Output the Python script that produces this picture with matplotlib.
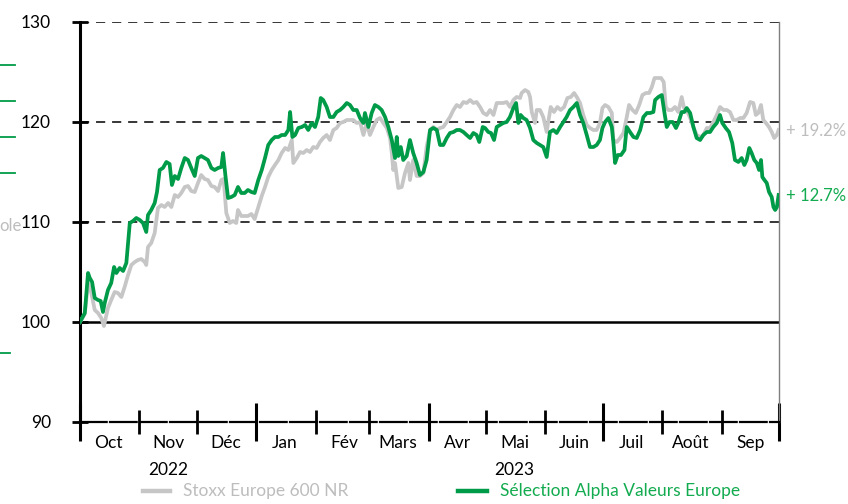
import matplotlib
matplotlib.use("Agg")
import matplotlib.pyplot as plt
import matplotlib.dates as mdates
from matplotlib.lines import Line2D
import pandas as pd
import numpy as np

plt.rcParams['font.family'] = ['Lato', 'DejaVu Sans']

start_date = "2022-10-01"
end_date = "2023-10-01"

# Sélection Alpha Valeurs Europe (days since 2022-10-01, value base 100)
sel_days = [0, 2.5, 4.2, 5.1, 6.3, 7.7, 9.4, 10.8, 12.0, 12.9, 14.6, 16.3, 17.8, 19.0, 20.7, 22.5, 24.2,
            26.0, 27.7, 29.4, 31.2, 32.9, 34.6, 35.5, 37.2, 39.0, 40.2, 41.6, 43.3, 45.1, 46.8, 48.0,
            49.5, 51.2, 52.9, 54.7, 56.4, 58.1, 59.9, 61.6, 63.3, 65.1, 66.8, 68.6, 70.3, 72.1, 73.8,
            74.7, 75.9, 77.3, 79.0, 80.8, 82.5, 84.2, 86.0, 87.7, 89.5, 91.2, 93.1, 94.9, 96.6, 98.3,
            100.1, 101.8, 103.6, 105.3, 107.1, 108.8, 109.7, 110.9, 112.3, 114.0, 115.8, 117.5, 119.2,
            121.0, 122.7, 124.4, 125.7, 127.0, 128.8, 130.5, 132.3, 134.0, 135.8, 137.5, 139.3, 141.0,
            142.7, 144.5, 146.2, 148.0, 148.8, 150.6, 152.3, 154.0, 155.8, 157.5, 159.3, 161.0, 162.8,
            164.5, 165.4, 166.2, 167.5, 168.8, 170.6, 172.3, 174.0, 175.8, 177.5, 179.3, 181.0, 182.8,
            184.5, 186.3, 188.0, 189.7, 191.5, 193.2, 195.0, 196.7, 198.4, 200.2, 201.9, 203.7, 205.4,
            207.1, 208.5, 210.3, 211.5, 213.2, 214.6, 216.2, 217.6, 219.3, 221.0, 222.8, 224.5, 226.3,
            227.7, 228.9, 230.1, 231.5, 233.2, 235.0, 236.7, 238.5, 240.2, 241.9, 243.7, 245.4, 247.2,
            248.9, 250.7, 252.4, 254.1, 255.9, 257.6, 259.4, 261.1, 262.8, 264.6, 266.3, 268.1, 269.8,
            271.5, 272.8, 274.2, 275.9, 277.7, 278.5, 279.4, 280.8, 282.5, 284.3, 285.5, 287.2, 289.0,
            290.7, 292.5, 294.2, 296.0, 297.7, 299.4, 300.3, 302.0, 303.8, 305.2, 306.4, 307.8, 309.5,
            311.2, 312.4, 314.2, 315.6, 316.8, 318.6, 320.3, 322.0, 323.8, 325.5, 327.3, 329.0, 330.7,
            332.5, 334.2, 335.4, 337.2, 338.9, 340.6, 342.0, 343.8, 345.5, 346.9, 348.1, 349.5, 350.7,
            352.1, 353.4, 354.6, 355.6, 356.3, 357.4, 358.6, 359.8, 361.2, 362.1, 363.0, 363.9, 364.8]
sel_vals = [100.0, 100.9, 104.9, 104.4, 104.0, 102.4, 102.2, 102.1, 101.0, 101.9, 103.2, 103.9, 105.5,
            104.9, 105.4, 105.1, 105.9, 109.9, 110.1, 110.4, 110.2, 109.9, 109.0, 110.7, 111.2, 111.9,
            113.0, 115.2, 115.4, 116.0, 115.8, 113.7, 114.6, 114.3, 115.4, 116.4, 116.2, 115.4, 114.6,
            116.4, 116.6, 116.4, 116.2, 115.4, 115.2, 115.4, 115.5, 116.9, 114.7, 112.4, 112.5, 112.7,
            113.5, 112.9, 112.9, 113.2, 113.0, 112.9, 114.2, 115.2, 116.4, 117.7, 118.2, 118.5, 118.5,
            118.7, 118.7, 119.2, 121.0, 118.5, 118.7, 119.4, 119.5, 119.7, 119.2, 119.9, 119.5, 120.5,
            122.4, 122.2, 121.5, 120.5, 120.5, 121.0, 121.2, 121.5, 121.9, 121.7, 121.2, 121.2, 120.4,
            119.9, 120.9, 119.5, 120.9, 121.7, 121.5, 121.2, 120.5, 119.5, 118.2, 116.4, 118.5, 116.6,
            117.5, 116.2, 116.6, 118.2, 116.9, 115.9, 114.7, 115.0, 116.2, 119.2, 119.4, 119.2, 117.7,
            117.7, 118.4, 118.9, 119.0, 119.2, 119.2, 119.0, 118.7, 118.4, 118.9, 118.7, 118.0, 119.5,
            119.4, 119.0, 118.9, 118.2, 119.5, 119.7, 119.9, 120.0, 120.5, 121.4, 121.9, 119.9, 120.7,
            120.4, 120.2, 119.4, 118.2, 117.9, 117.7, 117.5, 116.5, 119.0, 119.2, 118.9, 119.5, 120.0,
            120.5, 121.2, 121.5, 121.9, 120.7, 119.9, 118.7, 117.5, 117.5, 117.7, 118.2, 119.4, 120.0,
            120.4, 119.5, 118.0, 115.9, 116.7, 116.7, 117.2, 119.5, 119.0, 118.5, 118.4, 119.2, 120.5,
            120.9, 120.9, 121.0, 122.2, 122.5, 122.7, 120.9, 119.5, 120.0, 120.0, 119.4, 119.9, 121.0,
            121.0, 121.4, 120.9, 119.5, 118.4, 118.2, 118.7, 119.0, 119.0, 119.5, 119.9, 120.7, 119.9,
            119.4, 119.0, 117.9, 116.2, 116.0, 116.4, 115.7, 116.2, 117.4, 116.9, 116.2, 115.9, 115.2,
            116.2, 114.5, 114.2, 113.9, 113.0, 112.5, 111.5, 111.2, 111.5, 112.7]

# Stoxx Europe 600 NR
stoxx_days = [0, 2.5, 4.2, 5.9, 7.7, 9.4, 11.1, 12.5, 14.6, 16.3, 18.1, 19.8, 21.6, 23.3, 25.1, 26.8,
              28.6, 30.3, 32.0, 33.8, 34.6, 35.5, 37.2, 39.0, 40.7, 42.5, 44.2, 46.0, 47.7, 49.5, 51.2,
              52.9, 54.7, 56.4, 58.1, 59.9, 61.6, 63.3, 65.1, 66.8, 68.6, 70.3, 72.1, 73.8, 75.0, 76.4,
              78.2, 79.9, 81.6, 82.5, 84.2, 86.0, 87.7, 89.5, 91.2, 93.1, 94.9, 96.6, 98.3, 100.1, 101.8,
              103.6, 105.3, 107.1, 108.8, 110.6, 111.4, 113.2, 114.9, 116.6, 118.4, 120.1, 121.8, 123.6,
              125.3, 127.0, 128.8, 130.5, 132.3, 134.0, 135.8, 137.5, 139.3, 141.0, 142.7, 144.5, 146.2,
              148.0, 149.7, 151.4, 153.2, 154.9, 156.7, 158.4, 160.2, 161.9, 162.8, 163.6, 164.5, 166.2,
              168.0, 169.7, 171.5, 172.3, 174.0, 175.8, 177.5, 179.3, 181.0, 182.8, 184.5, 186.3, 188.0,
              189.7, 191.5, 193.2, 195.0, 196.7, 198.4, 200.2, 201.9, 203.7, 205.4, 207.1, 208.9, 210.6,
              212.4, 214.1, 215.9, 217.6, 219.3, 221.0, 222.8, 224.5, 226.3, 228.0, 229.8, 230.6, 232.4,
              234.1, 235.0, 235.9, 237.6, 238.5, 240.2, 241.9, 243.7, 244.5, 245.8, 247.5, 249.3, 251.0,
              252.8, 254.5, 256.3, 258.0, 259.4, 261.1, 262.8, 264.6, 266.3, 268.1, 269.8, 271.5, 272.8,
              274.2, 275.9, 277.7, 278.5, 280.3, 282.0, 283.8, 285.5, 286.7, 288.5, 290.2, 292.0, 293.7,
              295.5, 297.2, 298.6, 300.0, 301.7, 303.4, 304.8, 305.9, 307.2, 309.0, 310.7, 312.4, 314.2,
              315.4, 316.8, 318.6, 320.3, 322.0, 323.8, 325.5, 327.3, 329.0, 330.7, 332.5, 334.2, 336.0,
              337.7, 339.4, 341.2, 342.9, 344.7, 346.4, 348.1, 349.9, 351.6, 352.9, 354.2, 355.6, 356.8,
              358.2, 359.8, 361.2, 362.5, 363.9, 364.8]
stoxx_vals = [100.0, 100.8, 103.9, 102.9, 101.2, 100.9, 100.4, 99.6, 101.4, 102.2, 103.0, 102.9, 102.5,
              103.5, 104.7, 105.7, 106.0, 106.2, 106.3, 106.0, 105.7, 107.5, 107.9, 108.9, 111.4, 111.7,
              111.5, 111.9, 111.5, 112.7, 112.5, 112.9, 113.5, 113.6, 113.1, 113.0, 113.9, 114.7, 114.3,
              114.2, 113.6, 113.5, 113.1, 114.2, 114.3, 110.9, 109.9, 110.1, 109.9, 111.2, 110.6, 110.6,
              110.6, 110.8, 110.3, 111.5, 112.6, 113.5, 114.5, 115.2, 115.7, 116.2, 116.9, 117.4, 117.2,
              118.2, 115.9, 116.4, 117.0, 116.9, 117.2, 117.0, 117.5, 117.4, 118.0, 118.4, 118.7, 118.2,
              119.2, 119.4, 119.9, 120.0, 120.2, 120.2, 120.2, 119.9, 120.0, 118.7, 119.9, 118.7, 119.5,
              120.2, 120.4, 119.9, 119.4, 118.4, 116.9, 115.2, 115.9, 113.4, 113.5, 114.9, 115.9, 114.2,
              116.2, 114.6, 114.6, 114.9, 117.5, 119.2, 119.5, 119.2, 119.4, 119.5, 120.0, 120.5, 121.2,
              121.7, 121.5, 122.0, 121.9, 122.2, 121.9, 122.0, 121.5, 120.9, 120.7, 121.2, 120.7, 121.9,
              121.9, 121.9, 122.0, 121.5, 122.2, 122.5, 122.4, 122.9, 123.2, 123.0, 122.5, 121.0, 119.9,
              121.2, 121.2, 120.5, 119.0, 120.0, 121.5, 121.0, 121.5, 121.2, 121.5, 122.4, 122.5, 122.9,
              122.5, 121.9, 120.7, 119.7, 119.4, 119.2, 119.2, 119.9, 121.4, 121.7, 121.5, 120.9, 118.2,
              118.0, 118.4, 118.9, 120.5, 121.7, 121.2, 120.9, 121.7, 122.7, 122.9, 122.9, 123.5, 124.4,
              124.4, 124.4, 124.0, 121.5, 121.2, 121.2, 121.5, 121.0, 122.5, 121.4, 121.2, 120.4, 119.5,
              118.7, 118.5, 118.7, 119.4, 119.4, 120.0, 120.7, 121.5, 121.2, 121.2, 121.0, 120.2, 120.2,
              120.4, 120.4, 120.9, 122.0, 121.9, 120.7, 120.9, 121.7, 120.2, 119.9, 119.5, 119.0, 118.4,
              118.7, 119.2]

month_labels = ["Oct", "Nov", "Déc", "Jan", "Fév", "Mars", "Avr", "Mai", "Juin", "Juil", "Août", "Sep"]
year_labels = [("2022-11-16", "2022"), ("2023-05-16", "2023")]
y_ticks = [90, 100, 110, 120, 130]
dashed_levels = [110, 120, 130]
end_labels = ["+ 19.2%", "+ 12.7%"]
series_names = ["Stoxx Europe 600 NR", "Sélection Alpha Valeurs Europe"]

GREEN = "#009B48"
GREEN_TXT = "#13AB50"
GRAY = "#C6C6C6"
GRAY_TXT = "#BDBDBD"

t0 = pd.Timestamp(start_date)
sel_x = t0 + pd.to_timedelta(sel_days, unit="D")
stoxx_x = t0 + pd.to_timedelta(stoxx_days, unit="D")

fig = plt.figure(figsize=(8.48, 5.04), dpi=100)
ax = fig.add_axes([80 / 848, 82 / 504, 699 / 848, 400 / 504])

ax.set_xlim(pd.Timestamp(start_date), pd.Timestamp(end_date))
ax.set_ylim(90, 130)

for lv in dashed_levels:
    ax.axhline(lv, color="black", lw=1.1, ls=(0, (6, 4.5)), zorder=1)
ax.axhline(100, color="black", lw=1.8, zorder=1)

ax.plot(stoxx_x, stoxx_vals, color=GRAY, lw=2.7, zorder=3, solid_joinstyle="round")
ax.plot(sel_x, sel_vals, color=GREEN, lw=2.7, zorder=4, solid_joinstyle="round")

# spines
ax.spines["top"].set_visible(False)
ax.spines["left"].set_linewidth(2.2)
ax.spines["right"].set_color("#7f7f7f")
ax.spines["right"].set_linewidth(1.0)
ax.spines["bottom"].set_linewidth(1.6)
ax.spines["bottom"].set_linestyle((0, (12, 1.5)))

# y ticks
ax.set_yticks(y_ticks)
ax.set_yticklabels([str(v) for v in y_ticks])
ax.tick_params(axis="y", direction="inout", length=12, width=2, pad=15,
               labelsize=12.5, colors="black")
ax.tick_params(axis="y", right=False)

# x ticks: quarter boundaries long, other month boundaries short
month_starts = pd.date_range(start_date, end_date, freq="MS")
quarter = [d for d in month_starts if d.month in (1, 4, 7, 10)]
others = [d for d in month_starts if d.month not in (1, 4, 7, 10)]
ax.set_xticks(quarter)
ax.set_xticks(others, minor=True)
ax.tick_params(axis="x", which="major", direction="inout", length=28, width=2.2, labelbottom=False)
ax.tick_params(axis="x", which="minor", direction="inout", length=17, width=2.0, labelbottom=False)

for d, lab in zip(month_starts[:-1], month_labels):
    mid = d + pd.Timedelta(days=15)
    ax.annotate(lab, xy=(mid, 0), xycoords=("data", "axes fraction"),
                xytext=(0, -15), textcoords="offset points",
                ha="center", va="center", fontsize=12.5, color="black")
for dstr, lab in year_labels:
    ax.annotate(lab, xy=(pd.Timestamp(dstr), 0), xycoords=("data", "axes fraction"),
                xytext=(0, -34.5), textcoords="offset points",
                ha="center", va="center", fontsize=12.5, color="black")

# end-of-series labels
ax.annotate(end_labels[0], xy=(1, stoxx_vals[-1]), xycoords=("axes fraction", "data"),
            xytext=(5, -1), textcoords="offset points", ha="left", va="center",
            fontsize=12, color=GRAY_TXT, annotation_clip=False)
ax.annotate(end_labels[1], xy=(1, sel_vals[-1]), xycoords=("axes fraction", "data"),
            xytext=(5, -1), textcoords="offset points", ha="left", va="center",
            fontsize=12, color=GREEN_TXT, annotation_clip=False)

# legend (manual, below the chart)
fig.add_artist(Line2D([143 / 848, 170 / 848], [1 - 491 / 504] * 2, color=GRAY, lw=3.2))
fig.text(183 / 848, 1 - 491 / 504, series_names[0], color=GRAY_TXT, fontsize=12.5, va="center")
fig.add_artist(Line2D([458 / 848, 487 / 848], [1 - 491 / 504] * 2, color=GREEN, lw=3.2))
fig.text(500 / 848, 1 - 491 / 504, series_names[1], color=GREEN_TXT, fontsize=12.5, va="center")

# cropped fragments on the left edge of the original
for yy, x1 in [(65, 15), (101, 15), (137, 15), (173, 15), (353, 10)]:
    fig.add_artist(Line2D([0, x1 / 848], [1 - yy / 504] * 2, color=GREEN, lw=1.3))
fig.text(-1 / 848, 1 - 226 / 504, "ole", color=GRAY_TXT, fontsize=12, va="center", ha="left")

fig.savefig("out.png", dpi=100)
